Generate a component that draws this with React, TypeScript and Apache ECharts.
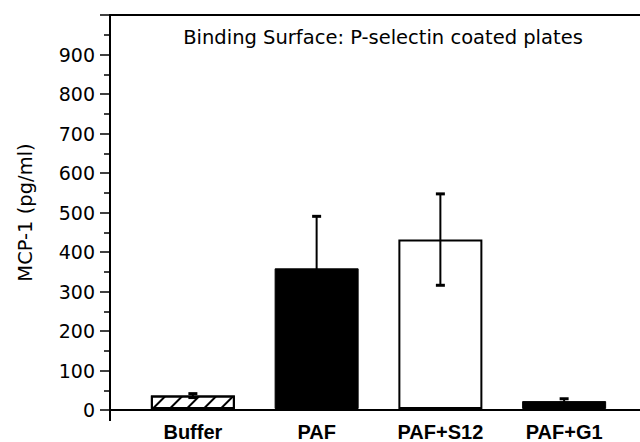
import React, { useEffect, useRef } from "react";
import * as echarts from "echarts";

const categories = ["Buffer", "PAF", "PAF+S12", "PAF+G1"];
const means = [34, 357, 430, 20];
const errors = [5, 132, 116, 6];
const yTicks = [0, 100, 200, 300, 400, 500, 600, 700, 800, 900];
const titleText = "Binding Surface: P-selectin coated plates";
const yName = "MCP-1 (pg/ml)";

const FONT = "DejaVu Sans";

export default function App() {
  const ref = useRef<HTMLDivElement>(null);
  useEffect(() => {
    if (!ref.current) return;
    const chart = echarts.init(ref.current, undefined, { renderer: "svg" });
    const barStyles = [
      {
        color: "#ffffff",
        borderColor: "#000",
        borderWidth: 2,
        decal: {
          symbol: "rect",
          color: "#000",
          backgroundColor: "#ffffff",
          dashArrayX: [1, 0],
          dashArrayY: [1.3, 9.5],
          rotation: -Math.PI / 4,
        },
      },
      { color: "#000", borderColor: "#000", borderWidth: 1 },
      { color: "#ffffff", borderColor: "#000", borderWidth: 2 },
      { color: "#000", borderColor: "#000", borderWidth: 1 },
    ];
    const option: any = {
      animation: false,
      backgroundColor: "#ffffff",
      title: {
        text: titleText,
        left: 378,
        top: 22,
        textAlign: "center",
        textStyle: { fontFamily: FONT, fontSize: 19.5, fontWeight: "normal", color: "#000" },
      },
      grid: [
        { left: 110, right: 0, top: 15, bottom: 32 },
        { left: 131, right: 14, top: 15, bottom: 32 },
      ],
      xAxis: [
        {
          type: "value",
          gridIndex: 0,
          min: 0,
          max: 1,
          axisLine: { show: true, onZero: false, lineStyle: { color: "#000", width: 2 } },
          axisTick: { show: false },
          axisLabel: { show: false },
          splitLine: { show: false },
        },
        {
          type: "value",
          gridIndex: 0,
          position: "top",
          min: 0,
          max: 1,
          axisLine: { show: true, onZero: false, lineStyle: { color: "#000", width: 2 } },
          axisTick: { show: false },
          axisLabel: { show: false },
          splitLine: { show: false },
        },
        {
          type: "category",
          gridIndex: 1,
          data: categories,
          axisLine: { show: false },
          axisTick: { show: false },
          axisLabel: {
            margin: 13,
            fontFamily: "Liberation Sans",
            fontSize: 20,
            fontWeight: "bold",
            color: "#000",
          },
        },
      ],
      yAxis: [
        {
          type: "value",
          gridIndex: 0,
          min: 0,
          max: 1000,
          interval: 100,
          name: yName,
          nameLocation: "middle",
          nameGap: 75,
          nameTextStyle: { fontFamily: FONT, fontSize: 19.5, color: "#000" },
          axisLine: { show: true, lineStyle: { color: "#000", width: 2 } },
          axisTick: { show: true, length: 10, lineStyle: { color: "#000", width: 1.5 } },
          minorTick: { show: true, splitNumber: 2, length: 6, lineStyle: { color: "#000", width: 1.5 } },
          splitLine: { show: false },
          axisLabel: {
            margin: 15,
            fontFamily: FONT,
            fontSize: 19,
            color: "#000",
            formatter: (v: number) => (yTicks.indexOf(v) >= 0 ? String(v) : ""),
          },
        },
        {
          type: "value",
          gridIndex: 1,
          min: 0,
          max: 1000,
          show: false,
        },
      ],
      graphic: [
        {
          type: "line",
          shape: { x1: 110, y1: 410, x2: 110, y2: 421 },
          style: { stroke: "#000", lineWidth: 2 },
        },
      ],
      series: [
        {
          type: "bar",
          xAxisIndex: 2,
          yAxisIndex: 1,
          barWidth: 84,
          data: means.map((v, i) => ({ value: v, itemStyle: barStyles[i] })),
        },
        {
          type: "custom",
          xAxisIndex: 2,
          yAxisIndex: 1,
          data: means.map((m, i) => [i, m, errors[i]]),
          renderItem: (params: any, api: any) => {
            const x = api.value(0);
            const m = api.value(1);
            const e = api.value(2);
            const top = api.coord([x, m + e]);
            const bot = api.coord([x, m - e]);
            const hw = 4.5;
            return {
              type: "group",
              children: [
                { type: "line", shape: { x1: top[0], y1: top[1], x2: bot[0], y2: bot[1] }, style: { stroke: "#000", lineWidth: 2 } },
                { type: "line", shape: { x1: top[0] - hw, y1: top[1], x2: top[0] + hw, y2: top[1] }, style: { stroke: "#000", lineWidth: 3 } },
                { type: "line", shape: { x1: bot[0] - hw, y1: bot[1], x2: bot[0] + hw, y2: bot[1] }, style: { stroke: "#000", lineWidth: 3 } },
              ],
            };
          },
          z: 5,
        },
      ],
    };
    chart.setOption(option);
    return () => chart.dispose();
  }, []);
  return (
    <div
      ref={ref}
      style={{ position: "fixed", left: 0, top: 0, width: 640, height: 442, background: "#fff" }}
    />
  );
}
